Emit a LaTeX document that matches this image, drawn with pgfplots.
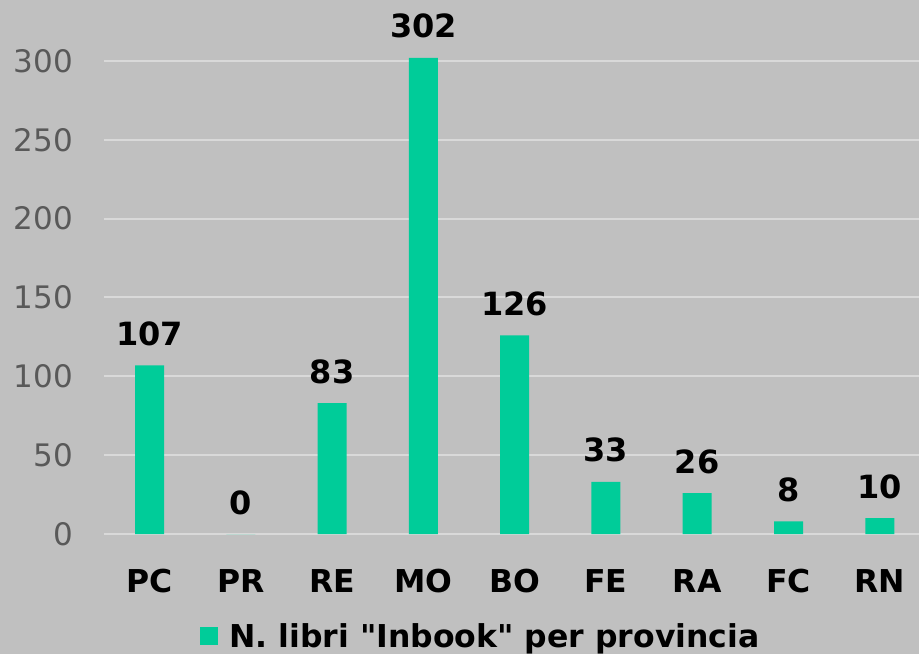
\documentclass[border=0pt]{standalone}
\usepackage{pgfplots}
\pgfplotsset{compat=1.18}
\usepackage{fontspec}
\setmainfont{DejaVu Sans}[Ligatures=TeXOff]
\definecolor{bgcol}{RGB}{192,192,192}
\definecolor{barcol}{RGB}{0,204,153}
\definecolor{gridcol}{RGB}{217,217,217}
\definecolor{tickcol}{RGB}{89,89,89}
\begin{document}
\begin{tikzpicture}[x=1pt,y=1pt]
\fill[bgcol] (0,0) rectangle (919,654);
\path[use as bounding box] (0,0) rectangle (919,654);
\begin{axis}[
  at={(104pt,120pt)}, anchor=south west,
  scale only axis, width=815pt, height=473pt,
  xmin=-0.5, xmax=8.43, ymin=0, ymax=300,
  clip=false,
  ybar, bar width=29pt,
  axis line style={draw=none},
  major tick style={draw=none},
  ymajorgrids, major grid style={color=gridcol, line width=2pt},
  ytick={0,50,100,150,200,250,300},
  xtick={0,1,2,3,4,5,6,7,8},
  xticklabels={PC,PR,RE,MO,BO,FE,RA,FC,RN},
  yticklabel style={anchor=east, inner sep=0pt, xshift=-31pt, text=tickcol, font=\fontsize{31}{36}\selectfont},
  xticklabel style={anchor=base, inner sep=0pt, yshift=-54pt, font=\fontsize{31.5}{36}\selectfont\bfseries},
  /pgf/number format/assume math mode=true,
  nodes near coords,
  nodes near coords style={anchor=base, inner sep=0pt, yshift=20pt, font=\fontsize{32}{36}\selectfont\bfseries, text=black},
  legend style={at={(axis description cs:0.4626,-0.2157)}, anchor=center, draw=none, fill=none, inner sep=0pt, font=\fontsize{31.5}{36}\selectfont\bfseries},
  legend image code/.code={\fill[barcol] (0pt,-9pt) rectangle (18pt,9pt); \path (27pt,0pt);},
]
\addplot[fill=barcol, draw=none] coordinates {(0,107) (1,0) (2,83) (3,302) (4,126) (5,33) (6,26) (7,8) (8,10)};
\addlegendentry{N. libri "Inbook" per provincia}
\end{axis}
\end{tikzpicture}
\end{document}
